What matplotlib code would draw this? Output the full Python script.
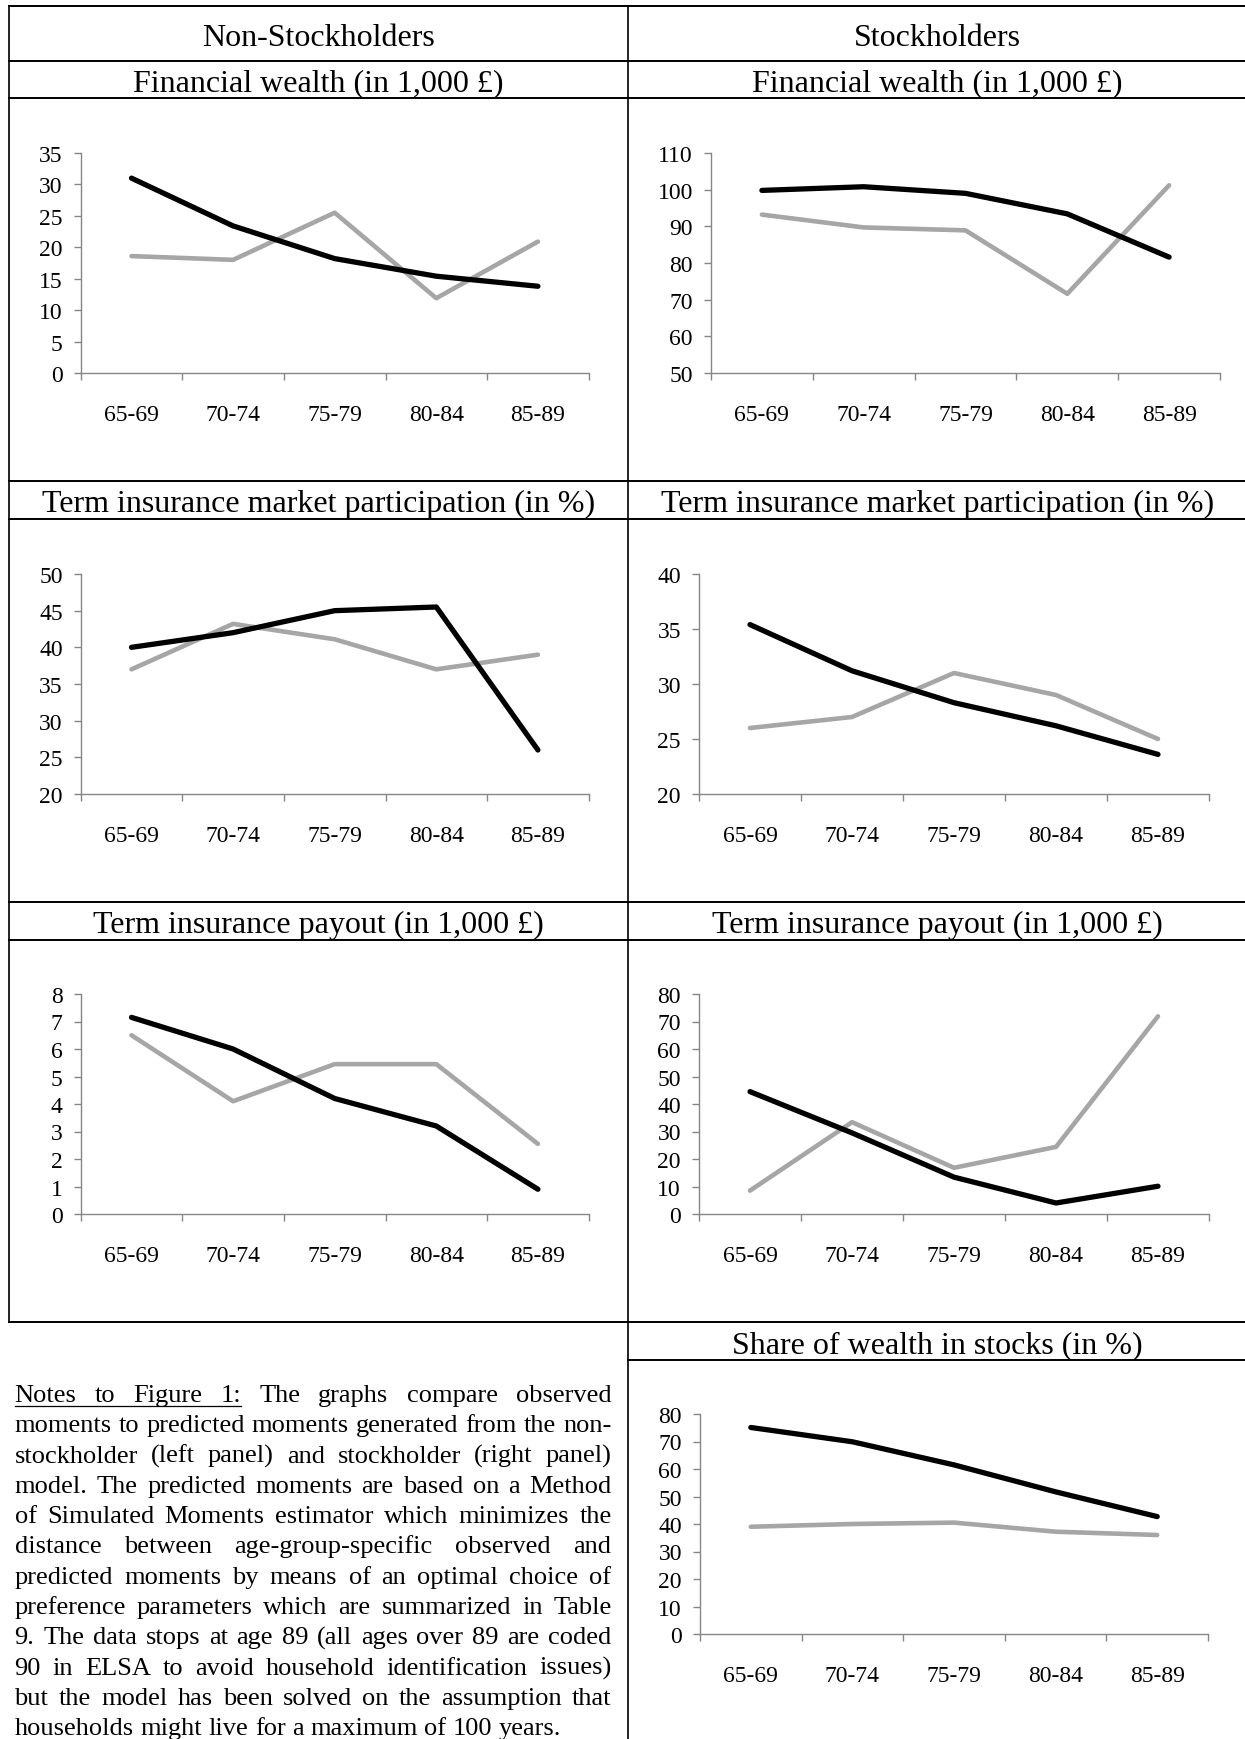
import matplotlib
matplotlib.use('Agg')
import matplotlib.pyplot as plt
from matplotlib.lines import Line2D

plt.rcParams['font.family'] = ['Liberation Serif', 'DejaVu Serif']

W, H = 1245, 1740

ages = ['65-69', '70-74', '75-79', '80-84', '85-89']

ns_wealth_black = [31.0, 23.4, 18.2, 15.4, 13.8]
ns_wealth_gray = [18.6, 18.0, 25.5, 11.9, 20.9]
s_wealth_black = [99.8, 100.8, 99.0, 93.4, 81.6]
s_wealth_gray = [93.2, 89.7, 88.9, 71.6, 101.2]

ns_term_black = [40.0, 42.0, 45.0, 45.5, 26.0]
ns_term_gray = [37.0, 43.2, 41.1, 37.0, 39.0]
s_term_black = [35.4, 31.2, 28.3, 26.2, 23.6]
s_term_gray = [26.0, 27.0, 31.0, 29.0, 25.0]

ns_payout_black = [7.15, 6.0, 4.2, 3.2, 0.9]
ns_payout_gray = [6.5, 4.1, 5.45, 5.45, 2.55]
s_payout_black = [44.5, 29.5, 13.4, 4.0, 10.1]
s_payout_gray = [8.5, 33.4, 16.8, 24.4, 71.9]

s_share_black = [75.1, 69.9, 61.5, 51.7, 42.7]
s_share_gray = [39.0, 40.0, 40.5, 37.2, 36.0]

ticks_ns_wealth = [0, 5, 10, 15, 20, 25, 30, 35]
ticks_s_wealth = [50, 60, 70, 80, 90, 100, 110]
ticks_ns_term = [20, 25, 30, 35, 40, 45, 50]
ticks_s_term = [20, 25, 30, 35, 40]
ticks_ns_payout = [0, 1, 2, 3, 4, 5, 6, 7, 8]
ticks_s_payout = [0, 10, 20, 30, 40, 50, 60, 70, 80]
ticks_s_share = [0, 10, 20, 30, 40, 50, 60, 70, 80]

note_lines = [
    "Notes to Figure 1: The graphs compare observed",
    "moments to predicted moments generated from the non-",
    "stockholder (left panel) and stockholder (right panel)",
    "model. The predicted moments are based on a Method",
    "of Simulated Moments estimator which minimizes the",
    "distance between age-group-specific observed and",
    "predicted moments by means of an optimal choice of",
    "preference parameters which are summarized in Table",
    "9. The data stops at age 89 (all ages over 89 are coded",
    "90 in ELSA to avoid household identification issues)",
    "but the model has been solved on the assumption that",
    "households might live for a maximum of 100 years.",
]

fig = plt.figure(figsize=(W / 100, H / 100), dpi=100)


def fx(x):
    return x / W


def fy(y):
    return 1 - y / H


def hline(y, x0, x1, lw=1.4):
    fig.add_artist(Line2D([fx(x0), fx(x1)], [fy(y), fy(y)], color='black',
                          lw=lw, transform=fig.transFigure))


def vline(x, y0, y1, lw=1.2):
    fig.add_artist(Line2D([fx(x), fx(x)], [fy(y0), fy(y1)], color='black',
                          lw=lw, transform=fig.transFigure))


def chart(x0, x1, y0, y1, black, gray, ticks):
    ax = fig.add_axes([fx(x0), fy(y1), (x1 - x0) / W, (y1 - y0) / H])
    x = list(range(1, len(ages) + 1))
    ax.plot(x, gray, color='#a6a6a6', lw=3.3, solid_joinstyle='round',
            solid_capstyle='round', clip_on=False)
    ax.plot(x, black, color='black', lw=3.8, solid_joinstyle='round',
            solid_capstyle='round', clip_on=False)
    ax.set_xlim(0.5, len(ages) + 0.5)
    ax.set_ylim(ticks[0], ticks[-1])
    ax.set_yticks(ticks)
    ax.set_xticks([i + 0.5 for i in range(len(ages) + 1)])
    ax.set_xticklabels([])
    ax.set_xticks(x, minor=True)
    ax.set_xticklabels(ages, minor=True)
    for s in ['top', 'right']:
        ax.spines[s].set_visible(False)
    for s in ['left', 'bottom']:
        ax.spines[s].set_color('#868686')
        ax.spines[s].set_linewidth(1.0)
    ax.tick_params(axis='both', which='major', direction='out', length=5,
                   width=1.0, color='#868686', labelsize=17)
    ax.tick_params(axis='y', pad=8)
    ax.tick_params(axis='x', which='minor', length=0, labelsize=17, pad=22)
    ax.set_facecolor('none')
    return ax


# table frame
for y in [7, 62, 99, 482, 520, 903, 941, 1323]:
    hline(y, 9, 1247)
hline(1361, 628, 1247)
vline(9, 7, 1323)
vline(628, 7, 1740)

# headers
lc, rc = 318.5, 937.5
fig.text(fx(lc), fy(46), 'Non-Stockholders', ha='center', va='baseline', fontsize=23)
fig.text(fx(rc), fy(46), 'Stockholders', ha='center', va='baseline', fontsize=23)
for yb, title in [(91, 'Financial wealth (in 1,000 £)'),
                  (512, 'Term insurance market participation (in %)'),
                  (933, 'Term insurance payout (in 1,000 £)')]:
    fig.text(fx(lc), fy(yb), title, ha='center', va='baseline', fontsize=23)
    fig.text(fx(rc), fy(yb), title, ha='center', va='baseline', fontsize=23)
fig.text(fx(rc), fy(1353), 'Share of wealth in stocks (in %)', ha='center',
         va='baseline', fontsize=23)

# charts
chart(80.7, 588.7, 154, 374, ns_wealth_black, ns_wealth_gray, ticks_ns_wealth)
chart(711, 1220, 154, 374, s_wealth_black, s_wealth_gray, ticks_s_wealth)
chart(80.7, 588.7, 575, 795, ns_term_black, ns_term_gray, ticks_ns_term)
chart(699, 1209, 575, 795, s_term_black, s_term_gray, ticks_s_term)
chart(80.7, 588.7, 995, 1215, ns_payout_black, ns_payout_gray, ticks_ns_payout)
chart(699, 1209, 995, 1215, s_payout_black, s_payout_gray, ticks_s_payout)
chart(700, 1208, 1415, 1635, s_share_black, s_share_gray, ticks_s_share)

# justified notes
renderer = fig.canvas.get_renderer()
left, right = 14.5, 611.5
for i, line in enumerate(note_lines):
    words = line.split()
    yb = 1402 + i * 30.3
    texts = [fig.text(0, fy(yb), w, fontsize=19, ha='left', va='baseline') for w in words]
    widths = [t.get_window_extent(renderer).width for t in texts]
    if i == len(note_lines) - 1:
        gap = 19 * 100 / 72 * 0.25
    else:
        gap = (right - left - sum(widths)) / (len(words) - 1)
    xpos = left
    starts = []
    for t, w in zip(texts, widths):
        t.set_x(fx(xpos))
        starts.append((xpos, w))
        xpos += w + gap
    if i == 0:
        ux0 = starts[0][0]
        ux1 = starts[3][0] + starts[3][1]
        fig.add_artist(Line2D([fx(ux0), fx(ux1)], [fy(yb + 4.5), fy(yb + 4.5)],
                              color='black', lw=0.9, transform=fig.transFigure))

fig.savefig('out.png', dpi=100)
